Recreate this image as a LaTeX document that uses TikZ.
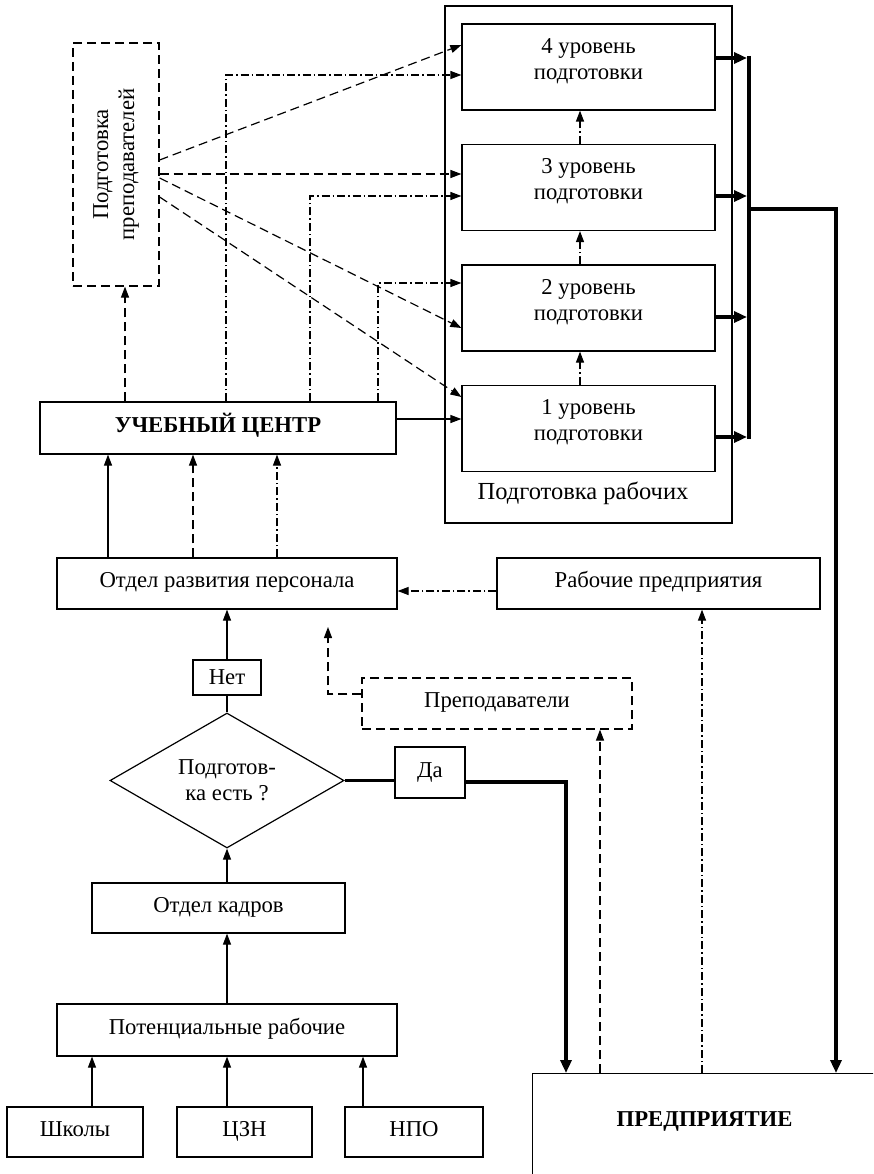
\documentclass[tikz,border=0pt]{standalone}
\usepackage{fontspec}
\setmainfont{Liberation Serif}
\usetikzlibrary{arrows.meta,shapes.geometric}
\newcommand{\lvtext}[1]{\raisebox{6pt}[\height][\depth]{\begin{tabular}{@{}c@{}}#1\end{tabular}}}
\begin{document}
\begin{tikzpicture}[x=1pt,y=-1pt,
  txt/.style={font=\fontsize{22.7}{26}\selectfont, align=center},
  box/.style={draw, rectangle, line width=1.2pt, inner sep=0pt, txt},
  one/.style={text height=13pt, text depth=5pt},
  dbox/.style={box, dash pattern=on 9pt off 5pt},
  ar/.style={line width=1.2pt, -{Triangle[length=11pt,width=8pt]}},
  ln/.style={line width=1.2pt},
  tln/.style={line width=3.5pt},
  tar/.style={line width=3.5pt, -{Triangle[length=13pt,width=11pt]}},
  dsh/.style={dash pattern=on 9pt off 5pt},
  ddot/.style={dash pattern=on 8pt off 3pt on 1.5pt off 3pt},
  ]
\useasboundingbox (0,0) rectangle (873,1174);
\clip (0,0) rectangle (873,1174);

% nodes
\node[dbox, minimum width=86pt, minimum height=243pt] (pp) at (116,164.5)
  {\rotatebox{90}{\begin{tabular}{@{}c@{}}Подготовка\\преподавателей\end{tabular}}};
\node[box, minimum width=287pt, minimum height=517pt] (out) at (588.5,264.5) {};
\node[txt, font=\fontsize{24.5}{28}\selectfont] (outlbl) at (583,493) {Подготовка рабочих};
\node[box, minimum width=253pt, minimum height=86pt] (l4) at (588.5,67) {\lvtext{4 уровень\\подготовки}};
\node[box, minimum width=253pt, minimum height=86pt] (l3) at (588.5,187.5) {\lvtext{3 уровень\\подготовки}};
\node[box, minimum width=253pt, minimum height=86pt] (l2) at (588.5,308) {\lvtext{2 уровень\\подготовки}};
\node[box, minimum width=253pt, minimum height=86pt] (l1) at (588.5,428.5) {\lvtext{1 уровень\\подготовки}};

\node[box, one, minimum width=356pt, minimum height=52pt] (uc) at (218,428) {\textbf{УЧЕБНЫЙ ЦЕНТР}};
\node[box, one, minimum width=340pt, minimum height=51pt] (ord) at (227,583.5) {Отдел развития персонала};
\node[box, one, minimum width=323pt, minimum height=51pt] (rp) at (658.5,583.5) {Рабочие предприятия};
\node[dbox, one, minimum width=270pt, minimum height=51pt] (prep) at (497,703.5) {Преподаватели};
\node[box, minimum width=68pt, minimum height=35pt] (net) at (227,677.5) {Нет};
\node[draw, diamond, line width=1.2pt, inner sep=0pt, aspect=1.73, txt,
      minimum width=234pt, minimum height=135pt] (dia) at (227,780.5) {Подготов-\\ка есть ?};
\node[box, minimum width=70pt, minimum height=51pt] (da) at (430,772.5) {Да};
\node[box, one, minimum width=253pt, minimum height=50pt] (ok) at (218.5,908) {Отдел кадров};
\node[box, one, minimum width=340pt, minimum height=52pt] (pr) at (227,1030) {Потенциальные рабочие};
\node[box, one, minimum width=136pt, minimum height=50pt] (sh) at (75,1132) {Школы};
\node[box, one, minimum width=135pt, minimum height=50pt] (czn) at (244.5,1132) {ЦЗН};
\node[box, one, minimum width=138pt, minimum height=50pt] (npo) at (414,1132) {НПО};
\node[box, minimum width=344pt, minimum height=120pt, anchor=north west] (ent) at (532,1073)
  {\raisebox{12pt}[\height][\depth]{\textbf{ПРЕДПРИЯТИЕ}}};

% helper coordinates
\coordinate (s4) at (0,160); \coordinate (e4) at (0,45);
\coordinate (s3) at (0,174);
\coordinate (s2) at (0,178); \coordinate (e2) at (0,328);
\coordinate (s1) at (0,197); \coordinate (e1) at (0,397);
\coordinate (c4) at (226,75); \coordinate (c3) at (310,196); \coordinate (c2) at (378,283);
\coordinate (c1) at (0,419);
\coordinate (xpp) at (125,0);
\coordinate (xo1) at (108,0); \coordinate (xo2) at (193,0); \coordinate (xo3) at (277,0);
\coordinate (xlv) at (580,0);
\coordinate (b4) at (747,58); \coordinate (b3) at (747,196); \coordinate (b2) at (747,317); \coordinate (b1) at (747,437);
\coordinate (bt) at (749,56); \coordinate (bb) at (749,439);
\coordinate (br) at (749,209); \coordinate (brc) at (836,209);
\coordinate (dac) at (566,782);
\coordinate (xa) at (600,0); \coordinate (xb) at (702,0);
\coordinate (pfree) at (328,627);
\coordinate (xsh) at (92,0); \coordinate (xcz) at (227,0); \coordinate (xnp) at (363,0);

% Подготовка преподавателей -> levels
\draw[ar,dsh] (pp.east |- s4) -- (l4.west |- e4);
\draw[ar,dsh] (pp.east |- s3) -- (l3.west |- s3);
\draw[ar,dsh] (pp.east |- s2) -- (l2.west |- e2);
\draw[ar,dsh] (pp.east |- s1) -- (l1.west |- e1);

% Учебный центр -> levels
\draw[ar,ddot] (uc.north -| c4) -- (c4) -- (l4.west |- c4);
\draw[ar,ddot] (uc.north -| c3) -- (c3) -- (l3.west |- c3);
\draw[ar,ddot] (uc.north -| c2) -- (c2) -- (l2.west |- c2);
\draw[ar] (uc.east |- c1) -- (l1.west |- c1);
\draw[ar,dsh] (uc.north -| xpp) -- (xpp |- pp.south);

% between levels
\draw[ar,ddot] (l1.north -| xlv) -- (xlv |- l2.south);
\draw[ar,ddot] (l2.north -| xlv) -- (xlv |- l3.south);
\draw[ar,ddot] (l3.north -| xlv) -- (xlv |- l4.south);

% levels -> bus
\draw[tar] (l4.east |- b4) -- (b4);
\draw[tar] (l3.east |- b3) -- (b3);
\draw[tar] (l2.east |- b2) -- (b2);
\draw[tar] (l1.east |- b1) -- (b1);
\draw[tln] (bt) -- (bb);
\draw[tar] (br) -- (brc) -- (brc |- ent.north);

% Отдел развития -> Учебный центр
\draw[ar] (ord.north -| xo1) -- (xo1 |- uc.south);
\draw[ar,dsh] (ord.north -| xo2) -- (xo2 |- uc.south);
\draw[ar,ddot] (ord.north -| xo3) -- (xo3 |- uc.south);

% Рабочие предприятия -> Отдел развития
\draw[ar,ddot] ([yshift=-7.5pt]rp.west) -- ([yshift=-7.5pt]ord.east);
% Преподаватели -> free end
\draw[ar,dsh] ([yshift=9.5pt]prep.west) -| (pfree);

% decision
\draw[ln] (dia.north) -- (net.south);
\draw[ar] (net.north) -- (ord.south);
\draw[tln] (dia.east) -- (da.west |- dia.east);
\draw[tar] (da.east |- dac) -- (dac) -- (dac |- ent.north);

% Предприятие -> up
\draw[ar,dsh] (ent.north -| xa) -- (xa |- prep.south);
\draw[ar,ddot] (ent.north -| xb) -- (xb |- rp.south);

% lower chain
\draw[ar] (ok.north -| dia.south) -- (dia.south);
\draw[ar] (pr.north) -- (pr.north |- ok.south);
\draw[ar] (sh.north -| xsh) -- (xsh |- pr.south);
\draw[ar] (czn.north -| xcz) -- (xcz |- pr.south);
\draw[ar] (npo.north -| xnp) -- (xnp |- pr.south);
\end{tikzpicture}
\end{document}
